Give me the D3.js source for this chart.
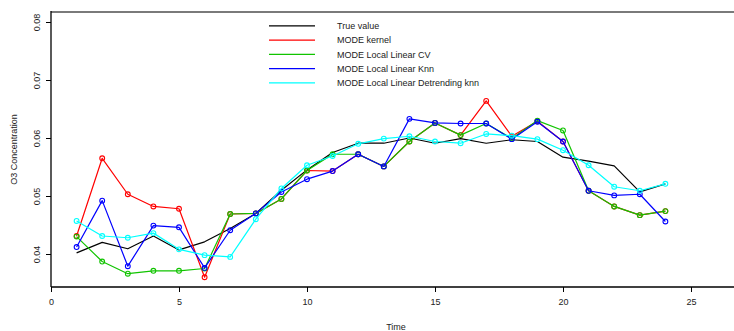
<!DOCTYPE html>
<html>
<head>
<meta charset="utf-8">
<script src="https://cdn.jsdelivr.net/npm/d3@7"></script>
<style>
  html, body { margin: 0; padding: 0; background: #fff; }
  svg { display: block; font-family: "Liberation Sans", Arial, sans-serif; }
</style>
</head>
<body>
<svg id="chart" width="734" height="331"></svg>
<script>
// Hourly O3 concentration: true value and four MODE forecasts
const time = d3.range(1, 25);

const trueValue = [0.0402, 0.0420, 0.0409, 0.0431, 0.0407, 0.0421, 0.0444, 0.0470,
  0.0510, 0.0545, 0.0575, 0.0591, 0.0591, 0.0600, 0.0591, 0.0599, 0.0591, 0.0597,
  0.0594, 0.0567, 0.0560, 0.0552, 0.0507, 0.0521];

const modeKernel = [0.0431, 0.0565, 0.0503, 0.0482, 0.0478, 0.0360, 0.0469, 0.0470,
  0.0495, 0.0544, 0.0543, 0.0572, 0.0551, 0.0594, 0.0626, 0.0605, 0.0664, 0.0603,
  0.0629, 0.0594, 0.0509, 0.0482, 0.0467, 0.0474];

const modeLocalLinearCV = [0.0430, 0.0387, 0.0366, 0.0371, 0.0371, 0.0375, 0.0469, 0.0470,
  0.0495, 0.0544, 0.0572, 0.0572, 0.0551, 0.0594, 0.0626, 0.0605, 0.0625, 0.0599,
  0.0630, 0.0613, 0.0509, 0.0482, 0.0467, 0.0474];

const modeLocalLinearKnn = [0.0412, 0.0492, 0.0379, 0.0449, 0.0446, 0.0376, 0.0441, 0.0470,
  0.0507, 0.0529, 0.0543, 0.0572, 0.0551, 0.0633, 0.0626, 0.0625, 0.0625, 0.0598,
  0.0628, 0.0594, 0.0509, 0.0501, 0.0503, 0.0456];

const modeDetrendingKnn = [0.0457, 0.0431, 0.0428, 0.0436, 0.0408, 0.0398, 0.0395, 0.0460,
  0.0513, 0.0553, 0.0569, 0.0590, 0.0599, 0.0603, 0.0594, 0.0591, 0.0607, 0.0604,
  0.0598, 0.0579, 0.0553, 0.0516, 0.0509, 0.0521];

const xTicks = [0, 5, 10, 15, 20, 25];
const yTicks = [0.04, 0.05, 0.06, 0.07, 0.08];

const seriesNames = ["True value", "MODE kernel", "MODE Local Linear CV",
  "MODE Local Linear Knn", "MODE Local Linear Detrending knn"];
const seriesColors = ["#000000", "#ff0000", "#11c400", "#0000ff", "#00ffff"];
const seriesValues = [trueValue, modeKernel, modeLocalLinearCV, modeLocalLinearKnn, modeDetrendingKnn];
const seriesPoints = [false, true, true, true, true];

// plot frame
const frameLeft = 51, frameRight = 734, frameTop = 12, frameBottom = 287;

const svg = d3.select("#chart");
const x = d3.scaleLinear().domain([0, 25]).range([51, 691]);
const y = d3.scaleLinear().domain([0.04, 0.08]).range([254, 22]);

const tickColor = "#222";

// x axis
const xAxis = svg.append("g")
  .attr("transform", `translate(0,${frameBottom})`)
  .call(d3.axisBottom(x).tickValues(xTicks).tickFormat(d3.format("d")).tickSize(5).tickPadding(7));
xAxis.select(".domain").remove();
xAxis.selectAll(".tick line").attr("stroke", "#000").attr("stroke-width", 1);
xAxis.selectAll(".tick text").attr("font-size", 9).attr("fill", tickColor)
  .attr("font-family", "Liberation Sans, Arial, sans-serif");

// y axis with rotated labels
const yAxis = svg.append("g")
  .attr("transform", `translate(${frameLeft},0)`)
  .call(d3.axisLeft(y).tickValues(yTicks).tickFormat(d3.format(".2f")).tickSize(5));
yAxis.select(".domain").remove();
yAxis.selectAll(".tick line").attr("stroke", "#000").attr("stroke-width", 1);
yAxis.selectAll(".tick text")
  .attr("font-size", 9).attr("fill", tickColor)
  .attr("font-family", "Liberation Sans, Arial, sans-serif")
  .attr("x", null).attr("dy", null)
  .attr("text-anchor", "middle")
  .attr("transform", "translate(-11.5,0) rotate(-90)");

// frame lines
svg.append("line").attr("x1", frameLeft).attr("x2", frameRight).attr("y1", frameTop).attr("y2", frameTop)
  .attr("stroke", "#7a7a7a").attr("stroke-width", 2);
svg.append("line").attr("x1", frameLeft).attr("x2", frameLeft).attr("y1", frameTop - 1).attr("y2", frameBottom)
  .attr("stroke", "#000").attr("stroke-width", 1.3);
svg.append("line").attr("x1", frameLeft).attr("x2", frameRight).attr("y1", frameBottom).attr("y2", frameBottom)
  .attr("stroke", "#000").attr("stroke-width", 1.3);

// axis titles
svg.append("text").attr("x", 396).attr("y", 330).attr("text-anchor", "middle")
  .attr("font-size", 9).attr("fill", tickColor).text("Time");
svg.append("text").attr("transform", "translate(17,149.5) rotate(-90)")
  .attr("text-anchor", "middle").attr("font-size", 9).attr("fill", tickColor)
  .text("O3 Concentration");

// series
const line = d3.line().x((d, i) => x(time[i])).y(d => y(d));
seriesValues.forEach((vals, k) => {
  svg.append("path").datum(vals)
    .attr("d", line)
    .attr("fill", "none")
    .attr("stroke", seriesColors[k])
    .attr("stroke-width", 1.2)
    .attr("stroke-linejoin", "round");
  if (seriesPoints[k]) {
    svg.append("g").selectAll("circle").data(vals).join("circle")
      .attr("cx", (d, i) => x(time[i]))
      .attr("cy", d => y(d))
      .attr("r", 2.4)
      .attr("fill", "none")
      .attr("stroke", seriesColors[k])
      .attr("stroke-width", 1.1);
  }
});

// legend
const legend = svg.append("g");
seriesNames.forEach((name, k) => {
  const ly = 25.8 + k * 14.25;
  legend.append("line").attr("x1", 269).attr("x2", 315).attr("y1", ly).attr("y2", ly)
    .attr("stroke", seriesColors[k]).attr("stroke-width", 1.2);
  legend.append("text").attr("x", 337).attr("y", ly + 3.2)
    .attr("font-size", 9).attr("fill", tickColor).text(name);
});
</script>
</body>
</html>
